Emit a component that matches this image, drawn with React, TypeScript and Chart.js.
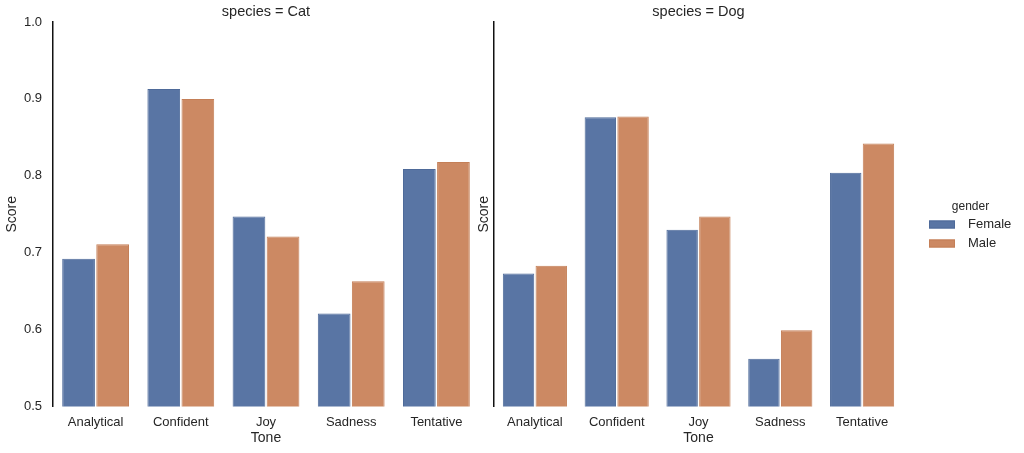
import React, { useEffect, useRef } from "react";
import { Chart, registerables } from "chart.js";

Chart.register(...registerables);

const tones = ["Analytical", "Confident", "Joy", "Sadness", "Tentative"];
const genders = ["Female", "Male"];
const catFemale = [0.692, 0.913, 0.747, 0.621, 0.809];
const catMale = [0.711, 0.9, 0.721, 0.663, 0.818];
const dogFemale = [0.673, 0.876, 0.73, 0.562, 0.804];
const dogMale = [0.683, 0.877, 0.747, 0.599, 0.842];
const yTicks = [0.5, 0.6, 0.7, 0.8, 0.9, 1.0];
const panelTitles = ["species = Cat", "species = Dog"];

const FILL = ["#5975a4", "#cc8963"];
const EDGE = ["#4e6a99", "#c47f57"];
const TEXT = "#262626";
const FONT = "'Liberation Sans', Arial, sans-serif";

Chart.defaults.font.family = FONT;

const panelTitlePlugin = {
  id: "panelTitle",
  afterDraw(chart: any, _args: any, opts: any) {
    const { ctx, chartArea } = chart;
    ctx.save();
    ctx.font = `14.5px ${FONT}`;
    ctx.fillStyle = TEXT;
    ctx.textAlign = "center";
    ctx.textBaseline = "middle";
    ctx.fillText(opts.text, (chartArea.left + chartArea.right) / 2, 12);
    ctx.restore();
  },
};

const legendPlugin = {
  id: "sideLegend",
  afterDraw(chart: any, _args: any, opts: any) {
    if (!opts.show) return;
    const { ctx } = chart;
    const ox = opts.offsetX;
    ctx.save();
    ctx.fillStyle = TEXT;
    ctx.textBaseline = "middle";
    ctx.textAlign = "center";
    ctx.font = `12px ${FONT}`;
    ctx.fillText("gender", 970.5 - ox, 207);
    ctx.font = `13px ${FONT}`;
    ctx.textAlign = "left";
    chart.data.datasets.forEach((ds: any, i: number) => {
      const cy = 224.5 + i * 19;
      ctx.fillStyle = ds.backgroundColor;
      ctx.fillRect(929 - ox, cy - 4, 26, 8);
      ctx.strokeStyle = ds.borderColor;
      ctx.lineWidth = 1;
      ctx.strokeRect(929.5 - ox, cy - 3.5, 25, 7);
      ctx.fillStyle = TEXT;
      ctx.fillText(ds.label, 968 - ox, cy);
    });
    ctx.restore();
  },
};

type PanelProps = {
  idx: number;
  female: number[];
  male: number[];
  left: number;
  width: number;
  yAxisWidth: number;
  padRight: number;
  scoreOffset: number;
  showTicks: boolean;
  showLegend: boolean;
};

function Panel(p: PanelProps) {
  const ref = useRef<HTMLCanvasElement | null>(null);
  useEffect(() => {
    if (!ref.current) return;
    const chart = new Chart(ref.current, {
      type: "bar",
      data: {
        labels: tones,
        datasets: [p.female, p.male].map((vals, i) => ({
          label: genders[i],
          data: vals,
          backgroundColor: FILL[i],
          borderColor: EDGE[i],
          borderWidth: 1,
          barPercentage: 0.96,
          categoryPercentage: 0.8,
        })),
      },
      options: {
        responsive: false,
        animation: false,
        events: [],
        layout: { padding: { top: 22, right: p.padRight, left: 0, bottom: 0 } },
        plugins: {
          legend: { display: false },
          tooltip: { enabled: false },
          panelTitle: { text: panelTitles[p.idx] },
          sideLegend: { show: p.showLegend, offsetX: p.left },
        } as any,
        scales: {
          x: {
            grid: { display: false, drawTicks: false },
            border: { display: false },
            ticks: { color: TEXT, padding: 8, font: { size: 13 } },
            title: {
              display: true,
              text: "Tone",
              color: TEXT,
              font: { size: 14 },
              padding: { top: 0, bottom: 6.6 },
            },
            afterFit: (s: any) => {
              s.height = 46.5;
            },
          },
          y: {
            min: 0.5,
            max: 1.0,
            grid: { display: false, drawTicks: false },
            border: { display: true, color: "#111111", width: 1.5 },
            ticks: {
              display: p.showTicks,
              color: TEXT,
              padding: 11,
              font: { size: 13 },
              callback: (v: any) => Number(v).toFixed(1),
            },
            afterBuildTicks: (s: any) => {
              s.ticks = yTicks.map((v) => ({ value: v }));
            },
            title: {
              display: true,
              text: "Score",
              color: TEXT,
              font: { size: 14 },
              padding: { top: p.scoreOffset, bottom: 0 },
            },
            afterFit: (s: any) => {
              s.width = p.yAxisWidth;
            },
          },
        },
      },
      plugins: [panelTitlePlugin, legendPlugin],
    });
    return () => chart.destroy();
  }, []);
  return (
    <canvas
      ref={ref}
      width={p.width}
      height={453}
      style={{ position: "absolute", left: p.left, top: 0, width: p.width, height: 453 }}
    />
  );
}

export default function App() {
  return (
    <div
      style={{
        position: "absolute",
        left: 0,
        top: 0,
        width: 1024,
        height: 453,
        background: "#ffffff",
        overflow: "hidden",
      }}
    >
      <Panel
        idx={0}
        female={catFemale}
        male={catMale}
        left={0}
        width={490}
        yAxisWidth={53}
        padRight={11}
        scoreOffset={3.6}
        showTicks={true}
        showLegend={false}
      />
      <Panel
        idx={1}
        female={dogFemale}
        male={dogMale}
        left={470}
        width={554}
        yAxisWidth={24}
        padRight={121}
        scoreOffset={5.6}
        showTicks={false}
        showLegend={true}
      />
    </div>
  );
}
